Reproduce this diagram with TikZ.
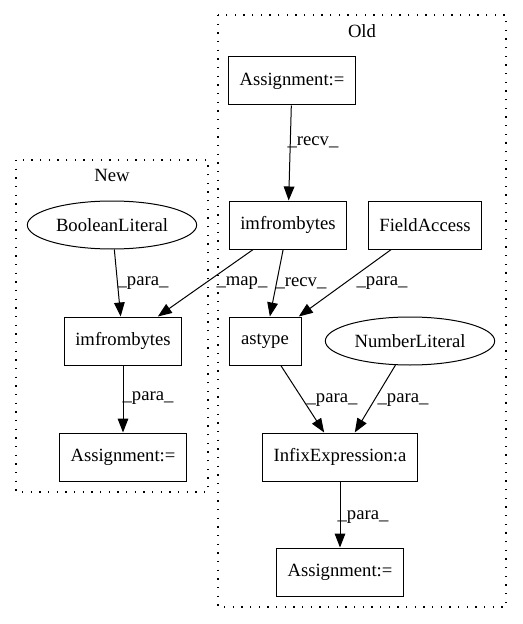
\documentclass[tikz,border=0pt]{standalone}
\usepackage{fontspec}
\setmainfont{Liberation Serif}
\usetikzlibrary{positioning, arrows.meta, shapes.geometric}

\begin{document}
\begin{tikzpicture}[x=0.75pt, y=-0.75pt,
					every node/.style={font=\fontsize{14pt}{16pt}\selectfont},
					stmt/.style={draw, line width=0.75pt, rectangle, minimum height=36pt, minimum width=54pt, inner xsep=8pt},
					lit/.style={draw, line width=0.75pt, ellipse, minimum width=127pt, minimum height=36pt, inner sep=0pt},
					flow/.style={draw, line width=0.75pt, -{Triangle[length=10.5pt, width=8pt]}},
					lbl/.style={inner sep=0pt},
					cluster/.style={draw, line width=0.8pt, dash pattern=on 1pt off 5.5pt}]
					\useasboundingbox (0,0) rectangle (523,624);
					\draw[cluster] (218,15) rectangle (506,607);
					\draw[cluster] (16,160) rectangle (208,492);
					\node (oldTitle) at (362,31) {Old};
					\node (newTitle) at (112,175) {New};
					\node[stmt] (oldAsgTop) at (292,81) {Assignment:=};
					\node[stmt] (oldImf) at (288,225) {imfrombytes};
					\node[stmt] (fieldAcc) at (425,225) {FieldAccess};
					\node[stmt] (astype) at (265,341) {astype};
					\node[lit] (numLit) at (410,341) {NumberLiteral};
					\node[stmt] (infix) at (340,457) {InfixExpression:a};
					\node[stmt] (oldAsgBot) at (340,572) {Assignment:=};
					\node[lit] (boolLit) at (112,225) {BooleanLiteral};
					\node[stmt] (newImf) at (123,341) {imfrombytes};
					\node[stmt] (newAsg) at (123,457) {Assignment:=};
					\draw[flow] (oldAsgTop) -- (oldImf) node[lbl] at (313,142) {\_recv\_};
					\draw[flow] (oldImf) -- (astype) node[lbl] at (301,283) {\_recv\_};
					\draw[flow] (fieldAcc) -- (astype) node[lbl] at (382,283) {\_para\_};
					\draw[flow] (oldImf) -- (newImf) node[lbl] at (242,283) {\_map\_};
					\draw[flow] (boolLit) -- (newImf) node[lbl] at (143,283) {\_para\_};
					\draw[flow] (newImf) -- (newAsg) node[lbl] at (148,398) {\_para\_};
					\draw[flow] (astype) -- (infix) node[lbl] at (332,400) {\_para\_};
					\draw[flow] (numLit) -- (infix) node[lbl] at (403,400) {\_para\_};
					\draw[flow] (infix) -- (oldAsgBot) node[lbl] at (363,517) {\_para\_};
				\end{tikzpicture}
\end{document}
